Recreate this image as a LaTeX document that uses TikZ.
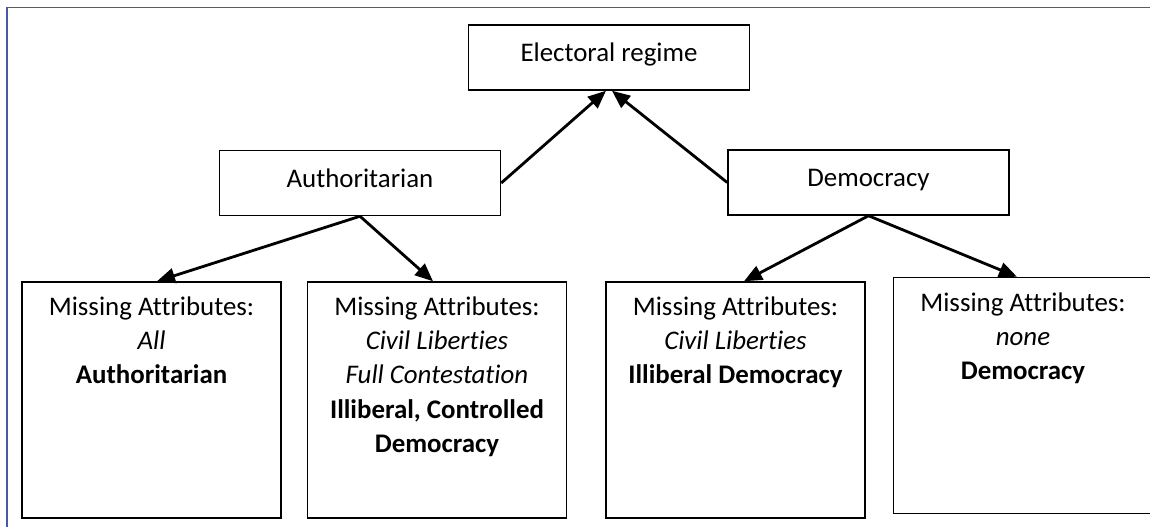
\documentclass[tikz,border=0pt]{standalone}
\usepackage{fontspec}
\setmainfont{Carlito}[Ligatures=NoCommon]
\usetikzlibrary{positioning,arrows.meta}
\definecolor{frameblue}{RGB}{72,88,168}
\tikzset{
  regime/.style={draw, line width=0.85pt, minimum width=5.62cm, minimum height=1.3cm,
    text height=0.72em, text depth=0.22em, font=\fontsize{15.3pt}{18pt}\selectfont},
  leaf/.style={draw, line width=0.85pt, minimum width=5.18cm, minimum height=4.72cm},
  leaftext/.style={align=center, inner sep=0pt, font=\fontsize{15.3pt}{19.4pt}\selectfont},
  arr/.style={-{Triangle[length=0.36cm, width=0.3cm]}, line width=1.6pt}
}

\begin{document}
\begin{tikzpicture}
      \useasboundingbox (0,0) rectangle (23,-10.54);
      % frame
      \draw[frameblue, line width=0.9pt] (0.14,-10.54) -- (0.14,-0.15) -- (23,-0.15);
      % regime boxes
      \node[regime] (ele) at (12.18,-1.15) {Electoral regime};
      \node[regime] (aut) at (7.2,-3.66) {Authoritarian};
      \node[regime] (dem) at (17.37,-3.65) {Democracy};
      % leaf boxes
      \node[leaf] (b1) at (3.03,-8) {};
      \node[leaf] (b2) at (8.74,-8) {};
      \node[leaf] (b3) at (14.71,-8) {};
      \node[leaf] (b4) at (20.46,-7.91) {};
      % leaf labels
      \node[leaftext, below=0.31cm of b1.north] (t1) {Missing Attributes:\\ \textit{All}\\ \textbf{Authoritarian}};
      \node[leaftext, below=0.31cm of b2.north] (t2) {Missing Attributes:\\ \textit{Civil Liberties}\\ \textit{Full Contestation}\\ \textbf{Illiberal, Controlled}\\ \textbf{Democracy}};
      \node[leaftext, below=0.31cm of b3.north] (t3) {Missing Attributes:\\ \textit{Civil Liberties}\\ \textbf{Illiberal Democracy}};
      \node[leaftext, below=0.31cm of b4.north] (t4) {Missing Attributes:\\ \textit{none}\\ \textbf{Democracy}};
      % arrows
      \draw[arr] (aut.east) -- ([xshift=-0.06cm]ele.south);
      \draw[arr] (dem.west) -- ([xshift=0.06cm]ele.south);
      \draw[arr] (aut.south) -- ([xshift=0.11cm]b1.north);
      \draw[arr] (aut.south) -- ([xshift=-0.08cm]b2.north);
      \draw[arr] (dem.south) -- ([xshift=0.17cm]b3.north);
      \draw[arr] (dem.south) -- ([xshift=-0.12cm]b4.north);
\end{tikzpicture}
\end{document}
